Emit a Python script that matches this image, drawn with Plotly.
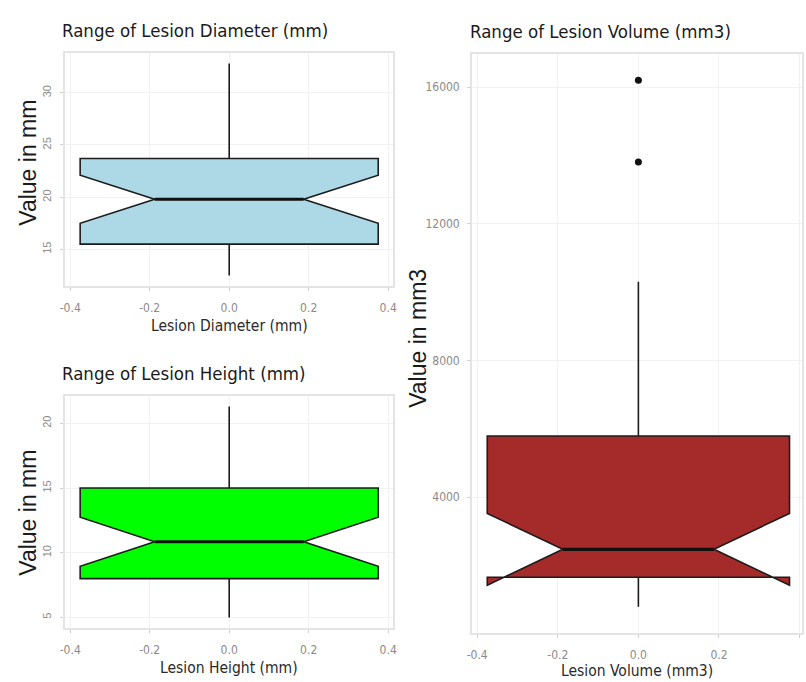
import plotly.graph_objects as go

# Summary statistics for each lesion measurement (notched box plots)
diam_stats = dict(q1=15.5, median=19.8, q3=23.7, lowerfence=12.5, upperfence=32.8, notchspan=2.3)
height_stats = dict(q1=8.0, median=10.85, q3=15.0, lowerfence=5.0, upperfence=21.3, notchspan=1.9)
volume_stats = dict(q1=1650, median=2470, q3=5785, lowerfence=790, upperfence=10300, notchspan=1050)
volume_outliers = [13810, 16200]

diam_ticks = [15, 20, 25, 30]
height_ticks = [5, 10, 15, 20]
volume_ticks = [4000, 8000, 12000, 16000]
x_ticks = [-0.4, -0.2, 0.0, 0.2, 0.4]
x_ticklabels = ["-0.4", "-0.2", "0.0", "0.2", "0.4"]

BOX_W = 0.75
NOTCH_W = 0.25
NARROW = "DejaVu Sans Condensed, Liberation Sans Narrow, Liberation Sans, Arial"
REGULAR = "Liberation Sans, Arial, sans-serif"
W, H = 806, 682


def px_x(a, b):
    return [a / W, b / W]


def px_y(top, bottom):
    return [1 - bottom / H, 1 - top / H]


fig = go.Figure()

panels = [
    ("x", "y", diam_stats, "#ADD8E6", []),
    ("x2", "y2", height_stats, "#00FF00", []),
    ("x3", "y3", volume_stats, "#A52A2A", volume_outliers),
]

for xa, ya, st, col, outl in panels:
    fig.add_trace(go.Box(
        x=[0], q1=[st["q1"]], median=[st["median"]], q3=[st["q3"]],
        lowerfence=[st["lowerfence"]], upperfence=[st["upperfence"]],
        notchspan=[st["notchspan"]], notched=True, notchwidth=NOTCH_W,
        width=BOX_W, boxpoints=False, fillcolor=col,
        line=dict(color="#1c1c1c", width=1.6), whiskerwidth=0,
        xaxis=xa, yaxis=ya, showlegend=False, hoverinfo="skip",
    ))
    # thicker median segment across the notch
    half = BOX_W / 2 * (1 - 2 * NOTCH_W)
    fig.add_trace(go.Scatter(
        x=[-half, half], y=[st["median"], st["median"]], mode="lines",
        line=dict(color="#111111", width=3.2), xaxis=xa, yaxis=ya,
        showlegend=False, hoverinfo="skip",
    ))
    if outl:
        fig.add_trace(go.Scatter(
            x=[0] * len(outl), y=outl, mode="markers",
            marker=dict(color="#111111", size=7), xaxis=xa, yaxis=ya,
            showlegend=False, hoverinfo="skip",
        ))


def yrange(st, outl):
    lo = min([st["lowerfence"]] + outl)
    hi = max([st["upperfence"]] + outl)
    pad = 0.05 * (hi - lo)
    return [lo - pad, hi + pad]


axis_common = dict(
    showgrid=True, gridcolor="#f1f1f1", gridwidth=1, zeroline=False,
    showline=True, mirror=True, linecolor="#e4e4e4", linewidth=2,
    ticks="outside", ticklen=3, tickcolor="#cfcfcf",
)

xr_left = [-0.4125, 0.4125]
xr_right = [-0.4125, 0.406]
tick_grey = "#8a8a8a"

xaxis_common = dict(type="linear", tickvals=x_ticks, ticktext=x_ticklabels,
                    tickfont=dict(family=NARROW, size=12, color=tick_grey),
                    ticklabelstandoff=7, **axis_common)

fig.update_layout(
    width=W, height=H, margin=dict(l=0, r=0, t=0, b=0),
    paper_bgcolor="white", plot_bgcolor="white",
    xaxis=dict(domain=px_x(60, 392), range=xr_left, anchor="y", **xaxis_common),
    yaxis=dict(domain=px_y(53, 286), range=yrange(diam_stats, []), anchor="x",
               tickvals=diam_ticks, ticktext=[str(v) for v in diam_ticks], tickangle=-90,
               tickfont=dict(family=REGULAR, size=11, color=tick_grey),
               ticklabelstandoff=5, **axis_common),
    xaxis2=dict(domain=px_x(60, 392), range=xr_left, anchor="y2", **xaxis_common),
    yaxis2=dict(domain=px_y(396, 628), range=yrange(height_stats, []), anchor="x2",
                tickvals=height_ticks, ticktext=[str(v) for v in height_ticks], tickangle=-90,
                tickfont=dict(family=REGULAR, size=11, color=tick_grey),
                ticklabelstandoff=5, **axis_common),
    xaxis3=dict(domain=px_x(472, 806), range=xr_right, anchor="y3", **xaxis_common),
    yaxis3=dict(domain=px_y(54, 633), range=yrange(volume_stats, volume_outliers), anchor="x3",
                tickvals=volume_ticks, ticktext=[str(v) for v in volume_ticks],
                tickfont=dict(family=NARROW, size=12, color=tick_grey),
                ticklabelstandoff=5, **axis_common),
)

ann = []
# panel titles
for text, x, y in [
    ("Range of Lesion Diameter (mm)", 55, 31),
    ("Range of Lesion Height (mm)", 55, 373),
    ("Range of Lesion Volume (mm3)", 468, 32),
]:
    ann.append(dict(text=text, x=x / W, y=1 - y / H, xref="paper", yref="paper",
                    xanchor="left", yanchor="middle", showarrow=False,
                    font=dict(family=NARROW, size=18.5, color="#1a1a1a")))
# x-axis titles
for text, x, y in [
    ("Lesion Diameter (mm)", 226, 326),
    ("Lesion Height (mm)", 226, 668),
    ("Lesion Volume (mm3)", 639, 671),
]:
    ann.append(dict(text=text, x=x / W, y=1 - y / H, xref="paper", yref="paper",
                    xanchor="center", yanchor="middle", showarrow=False,
                    font=dict(family=NARROW, size=15.5, color="#2a2a2a")))
# y-axis titles
for text, x, y in [
    ("Value in mm", 22, 163),
    ("Value in mm", 22, 513),
    ("Value in mm3", 417, 338),
]:
    ann.append(dict(text=text, x=x / W, y=1 - y / H, xref="paper", yref="paper",
                    xanchor="center", yanchor="middle", showarrow=False, textangle=-90,
                    font=dict(family=REGULAR, size=23, color="#1a1a1a")))
fig.update_layout(annotations=ann)

fig.write_html("out.html")
